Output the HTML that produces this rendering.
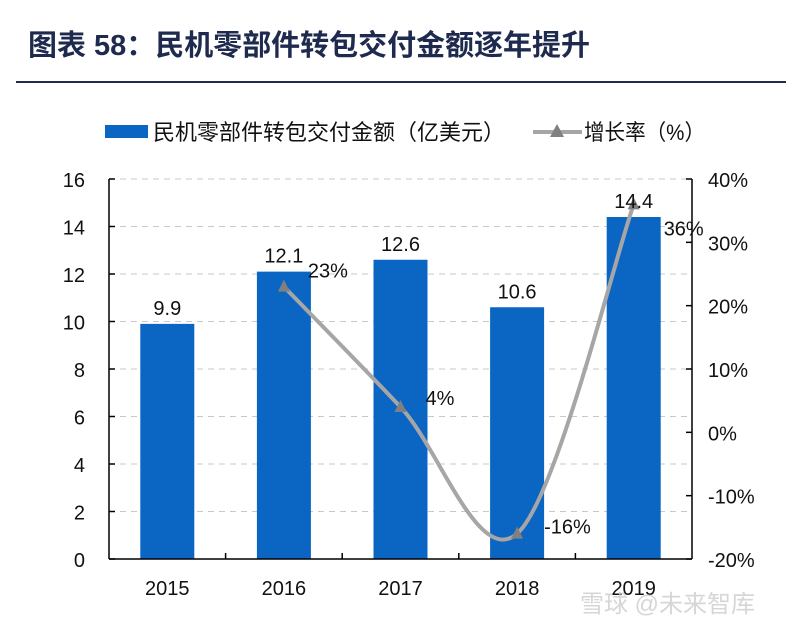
<!DOCTYPE html>
<html><head><meta charset="utf-8"><style>
body{margin:0;background:#fff;width:800px;height:626px;overflow:hidden;font-family:"Liberation Sans","Noto Sans CJK SC",sans-serif}
</style></head><body>
<svg width="800" height="626" xmlns="http://www.w3.org/2000/svg">
<text x="28" y="55" font-size="29" font-weight="bold" fill="#1f2a4f" textLength="562" lengthAdjust="spacingAndGlyphs" font-family="'Liberation Sans','Noto Sans CJK SC',sans-serif">图表 58：民机零部件转包交付金额逐年提升</text>
<line x1="16" y1="82" x2="786" y2="82" stroke="#1f2a4f" stroke-width="2"/>
<g font-size="22" fill="#111">
<rect x="105" y="125" width="43" height="13" fill="#0a65c3"/>
<text x="153" y="140" textLength="352" lengthAdjust="spacingAndGlyphs">民机零部件转包交付金额（亿美元）</text>
<line x1="533" y1="132" x2="582" y2="132" stroke="#a6a6a6" stroke-width="4"/>
<polygon points="550,137 564,137 557,124" fill="#808080"/>
<text x="584" y="140" textLength="121" lengthAdjust="spacingAndGlyphs">增长率（%）</text>
</g>
<g id="grid"></g><g id="bars"></g><g id="axes"></g><g id="line"></g><g id="labels"></g>
<text x="580" y="612" font-size="24" fill="#ccc" opacity="0.8">雪球 @未来智库</text>
</svg>
<script>
const years=["2015","2016","2017","2018","2019"];
const amounts=[9.9,12.1,12.6,10.6,14.4];
const growthYears=["2016","2017","2018","2019"];
const growth=[23,4,-16,36];
const leftTicks=[0,2,4,6,8,10,12,14,16];
const rightTicks=[-20,-10,0,10,20,30,40];
const labelDx=[24,25,27,30];
const labelDy=[-9,-2,0,31];
const NS="http://www.w3.org/2000/svg";
const X0=109,X1=692,Y0=559,Y1=179;
const band=(X1-X0)/years.length;
const xc=i=>X0+band*(i+0.5);
const yL=v=>Y0-(v/16)*(Y0-Y1);
const yR=v=>Y0-((v+20)/60)*(Y0-Y1);
function mk(tag,attrs,parent,txt){const e=document.createElementNS(NS,tag);for(const k in attrs)e.setAttribute(k,attrs[k]);if(txt!=null)e.textContent=txt;document.getElementById(parent).appendChild(e);return e;}
leftTicks.forEach(t=>{
  if(t>0){const g=mk('line',{x1:X0,x2:X1,y1:yL(t),y2:yL(t),stroke:'#c8c8c8','stroke-dasharray':'6,5'},'grid');
  
  }
  const l=mk('text',{x:X0-24,y:yL(t)+8,'text-anchor':'end','font-size':'20',fill:'#111'},'axes',String(t));
  
  
  const tk=mk('line',{x1:X0,x2:X0+6,y1:yL(t),y2:yL(t),stroke:'#000','stroke-width':1.5},'axes');
  
  
});
rightTicks.forEach(t=>{
  const l=mk('text',{x:X1+16,y:yR(t)+8,'font-size':'20',fill:'#111'},'axes',t+'%');
  
  
  const tk=mk('line',{x1:X1-6,x2:X1,y1:yR(t),y2:yR(t),stroke:'#000','stroke-width':1.5},'axes');
  
  
});
const axL=mk('line',{x1:X0,x2:X0,y1:Y1,y2:Y0,stroke:'#000','stroke-width':1.5},'axes');


const axR=mk('line',{x1:X1,x2:X1,y1:Y1,y2:Y0,stroke:'#000','stroke-width':1.5},'axes');


const axB=mk('line',{x1:X0,x2:X1,y1:Y0,y2:Y0,stroke:'#000','stroke-width':1.5},'axes');


years.forEach((y,i)=>{
  const b=mk('rect',{x:xc(i)-27,y:yL(amounts[i]),width:54,height:Y0-yL(amounts[i]),fill:'#0a65c3'},'bars');
  
  
  const v=mk('text',{x:xc(i),y:yL(amounts[i])-9,'text-anchor':'middle','font-size':'20',fill:'#111'},'labels',amounts[i].toFixed(1));
  
  
  const l=mk('text',{x:xc(i),y:Y0+36,'text-anchor':'middle','font-size':'20',fill:'#111'},'axes',y);
  
  
  if(i<years.length-1){const tk=mk('line',{x1:X0+band*(i+1),x2:X0+band*(i+1),y1:Y0-6,y2:Y0,stroke:'#000','stroke-width':1.5},'axes');
  
  }
});
const pts=growth.map((g,j)=>[xc(years.indexOf(growthYears[j])),yR(g)]);
let d='M'+pts[0][0]+','+pts[0][1];
for(let i=0;i<pts.length-1;i++){
  const p0=pts[Math.max(0,i-1)],p1=pts[i],p2=pts[i+1],p3=pts[Math.min(pts.length-1,i+2)];
  const c1=[p1[0]+(p2[0]-p0[0])/6,p1[1]+(p2[1]-p0[1])/6],c2=[p2[0]-(p3[0]-p1[0])/6,p2[1]-(p3[1]-p1[1])/6];
  d+=` C${c1[0]},${c1[1]} ${c2[0]},${c2[1]} ${p2[0]},${p2[1]}`;
}
const ln=mk('path',{d:d,fill:'none',stroke:'#a6a6a6','stroke-width':4},'line');


pts.forEach((p,j)=>{
  const m=mk('polygon',{points:`${p[0]-6},${p[1]+5} ${p[0]+6},${p[1]+5} ${p[0]},${p[1]-7}`,fill:'#808080'},'line');
  
  
  const t=mk('text',{x:p[0]+labelDx[j],y:p[1]+labelDy[j],'font-size':'20',fill:'#111'},'labels',growth[j]+'%');
  
  
});
</script>
</body></html>
